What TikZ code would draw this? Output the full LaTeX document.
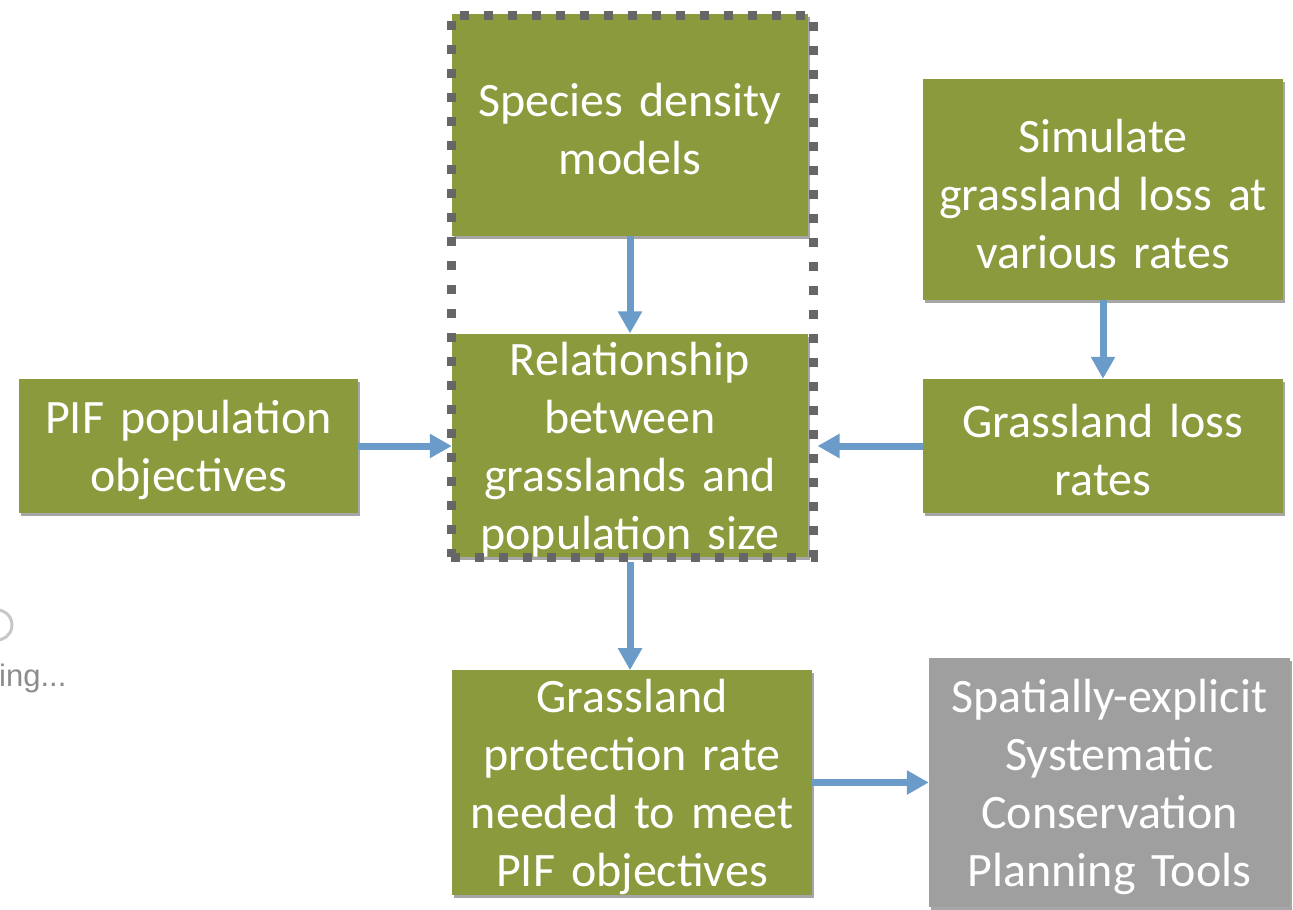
\documentclass[tikz,border=0pt]{standalone}
\usepackage{fontspec}
\setmainfont{Carlito}
\newfontfamily\loadfont{Liberation Sans}
\usetikzlibrary{arrows.meta,shadows}
\definecolor{boxgreen}{HTML}{8A9A3C}
\definecolor{boxgray}{HTML}{A09F9F}
\definecolor{arrblue}{HTML}{6A9BC9}
\definecolor{dashgray}{HTML}{666666}
\tikzset{
  box/.style={rectangle, inner sep=0pt, fill=boxgreen, text=white, align=center,
    font=\fontsize{48}{58}\selectfont,
    execute at begin node={\rule{0pt}{42pt}},
    drop shadow={shadow xshift=2pt, shadow yshift=-3pt, opacity=0.35, fill=black}},
  graybox/.style={box, fill=boxgray},
  arr/.style={draw=arrblue, line width=7pt, -{Triangle[width=23pt,length=22pt]}},
  frame/.style={draw=dashgray, line width=9pt, dash pattern=on 9pt off 15pt, rectangle, inner sep=0pt}
}
\begin{document}
\begin{tikzpicture}[x=1pt,y=-1pt]
\useasboundingbox (0,0) rectangle (1293,910);
\node[box, minimum width=356pt, minimum height=222pt, text width=346pt] (sd) at (630,125) {Species density\\models};
\node[box, minimum width=356pt, minimum height=219pt, text width=346pt] (rel) at (630,445.5) {Relationship\\between\\grasslands and\\population size};
\node[frame, minimum width=362pt, minimum height=542pt] (fr) at (632,286) {};
\node[box, minimum width=360pt, minimum height=221pt, text width=350pt] (sim) at (1103,189.5) {Simulate\\grassland loss at\\various rates};
\node[box, minimum width=360pt, minimum height=134pt, text width=350pt] (glr) at (1103,446) {Grassland loss\\rates};
\node[box, minimum width=339pt, minimum height=134pt, text width=330pt] (pif) at (188.5,446) {PIF population\\objectives};
\node[box, minimum width=360pt, minimum height=221pt, text width=350pt] (gp) at (632,782.5) {Grassland\\protection rate\\needed to meet\\PIF objectives};
\node[graybox, minimum width=361pt, minimum height=249pt, text width=352pt] (sp) at (1109.5,782.5) {Spatially-explicit\\Systematic\\Conservation\\Planning Tools};
\node[anchor=base west, inner sep=0pt, text=black!45, font=\loadfont\fontsize{31}{36}\selectfont] (ld) at (-1,686) {ing...};
\draw[black!22, line width=3pt] (-3,625) ++(-80:15) arc[start angle=-80, end angle=95, radius=15];
\draw[arr] (sd.south) -- (rel.north);
\draw[arr] (fr.south -| rel.south) -- (rel.south |- gp.north);
\draw[arr] (sim.south) -- (glr.north);
\draw[arr] (glr.west) -- (fr.east |- glr.west);
\draw[arr] (pif.east) -- (rel.west |- pif.east);
\draw[arr] (gp.east) -- (sp.west |- gp.east);
\end{tikzpicture}
\end{document}
